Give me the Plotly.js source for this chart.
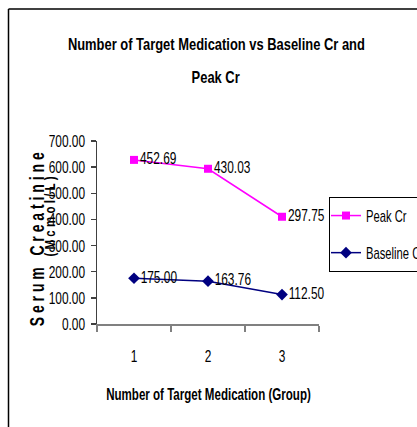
<!DOCTYPE html>
<html>
<head>
<meta charset="utf-8">
<script src="https://cdn.plot.ly/plotly-3.0.1.min.js"></script>
<style>html,body{margin:0;padding:0;background:#fff;}#chart{width:417px;height:427px;}</style>
</head>
<body>
<div id="chart"></div>
<script>
const groups = ["1", "2", "3"];
const baselineCr = [175.00, 163.76, 112.50];
const peakCr = [452.69, 430.03, 297.75];
const yTicks = [0, 100, 200, 300, 400, 500, 600, 700];

const FONT = "Liberation Sans, Arial, sans-serif";
const L = 97, R = 319, T = 141, B = 324;
const px = x => (x - L) / (R - L);
const py = y => (B - y) / (B - T);
const fmt = v => v.toFixed(2);

const traces = [
  {
    name: "Baseline Cr", x: groups, y: baselineCr, stackgroup: "s", fill: "none",
    legendgroup: "b", legendrank: 2, cliponaxis: false,
    mode: "lines+markers+text", text: baselineCr.map(fmt), textposition: "middle right",
    textfont: {family: FONT, size: 17, color: "#000"},
    line: {color: "#000080", width: 1.5},
    marker: {symbol: "diamond", size: 9, color: "#000080"},
    hoverinfo: "skip"
  },
  {
    name: "Peak Cr", x: groups, y: peakCr, stackgroup: "s", fill: "none",
    legendgroup: "p", legendrank: 1, cliponaxis: false,
    mode: "lines+markers+text", text: peakCr.map(fmt), textposition: "middle right",
    textfont: {family: FONT, size: 17, color: "#000"},
    line: {color: "#FF00FF", width: 1.5},
    marker: {symbol: "square", size: 8, color: "#FF00FF"},
    hoverinfo: "skip"
  }
];

const ann = (text, x, y, size, extra) => Object.assign({
  text, xref: "paper", yref: "paper", x: px(x), y: py(y),
  xanchor: "center", yanchor: "middle", showarrow: false,
  font: {family: FONT, size, weight: "bold", color: "#000"}
}, extra || {});

const layout = {
  width: 417, height: 427,
  margin: {l: L, r: 417 - R, t: T, b: 427 - B, pad: 0, autoexpand: false},
  paper_bgcolor: "#fff", plot_bgcolor: "#fff",
  font: {family: FONT, size: 17, color: "#000"},
  showlegend: true,
  legend: {
    x: px(329), y: py(197), xanchor: "left", yanchor: "top",
    bordercolor: "#000", borderwidth: 1, bgcolor: "#fff",
    font: {family: FONT, size: 17, color: "#000"},
    traceorder: "grouped", itemwidth: 30, tracegroupgap: 12, indentation: -4
  },
  xaxis: {
    type: "category", range: [-0.5, 2.5], tickson: "boundaries",
    ticks: "outside", ticklen: 6, tickcolor: "#808080", tickwidth: 1.5,
    showline: true, linecolor: "#808080", linewidth: 1.5,
    showgrid: false, zeroline: false, ticklabelstandoff: 16,
    tickfont: {family: FONT, size: 17, color: "#000"}, fixedrange: true
  },
  yaxis: {
    range: [0, 700], tickvals: yTicks, ticktext: yTicks.map(fmt),
    ticks: "outside", ticklen: 5, tickcolor: "#404040", tickwidth: 1.5,
    showline: true, linecolor: "#404040", linewidth: 1.5,
    showgrid: false, zeroline: false, ticklabelstandoff: 2,
    tickfont: {family: FONT, size: 17, color: "#000"}, fixedrange: true
  },
  shapes: [
    {type: "line", xref: "paper", yref: "paper", x0: px(8.5), x1: px(8.5), y0: py(9), y1: py(440), line: {color: "#000", width: 1.5}},
    {type: "line", xref: "paper", yref: "paper", x0: px(8.5), x1: px(440), y0: py(9), y1: py(9), line: {color: "#000", width: 1.5}}
  ],
  annotations: [
    ann("Number of Target Medication vs Baseline Cr and", 216, 44, 17),
    ann("Peak Cr", 216, 77, 17),
    ann("Number of Target Medication (Group)", 208, 394, 17),
    ann("S e r u m   C r e a t i n i n e", 36, 240, 21, {textangle: -90}),
    ann("( M c m o l / L )", 50, 217, 14, {textangle: -90})
  ]
};

// horizontal squeeze of the text, imitating the narrow, tall lettering of the original
const annFactor = {0: 0.76, 1: 0.76, 2: 0.68};
const annFixed = {3: 174, 4: 80};
const DEFAULT_SQUEEZE = 0.7;
const LEGEND_SQUEEZE = 0.66;

Plotly.newPlot("chart", traces, layout, {displayModeBar: false, staticPlot: true}).then(gd => {
  gd.querySelectorAll("svg text").forEach(t => {
    const len = t.getComputedTextLength();
    if (!(len > 0)) return;
    const a = t.closest(".annotation");
    let target;
    if (a) {
      const i = a.getAttribute("data-index");
      target = annFixed[i] !== undefined ? annFixed[i] : len * (annFactor[i] || DEFAULT_SQUEEZE);
    } else if (t.closest(".legend")) {
      target = len * LEGEND_SQUEEZE;
    } else {
      target = len * DEFAULT_SQUEEZE;
    }
    t.setAttribute("textLength", target.toFixed(1));
    t.setAttribute("lengthAdjust", "spacingAndGlyphs");
  });
});
</script>
</body>
</html>
